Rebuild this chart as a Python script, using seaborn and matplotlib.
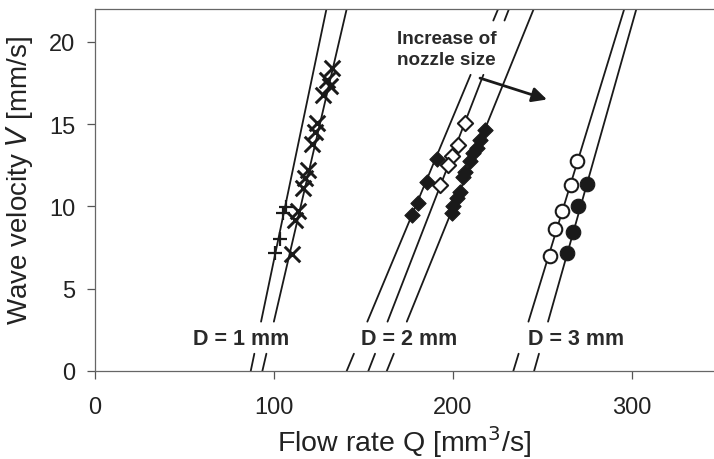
import matplotlib
matplotlib.use("Agg")
import matplotlib.pyplot as plt
import seaborn as sns

sns.set_theme(style="ticks")
plt.rcParams['font.family'] = ['Liberation Sans', 'DejaVu Sans']

# Measured wave velocity V [mm/s] against flow rate Q [mm^3/s]
d1_plus_q = [106.5, 105.2, 103.4, 100.6]
d1_plus_v = [9.95, 9.6, 8.0, 7.15]
d1_cross_q = [132.2, 129.4, 131.3, 127.5, 123.8, 122.9, 121.0, 119.2, 117.3, 116.4, 113.6, 111.7, 109.9]
d1_cross_v = [18.4, 17.7, 17.3, 16.8, 15.1, 14.5, 13.8, 12.2, 11.7, 11.1, 9.7, 9.2, 7.1]

d2_left_q = [190.8, 185.3, 180.6, 176.9]
d2_left_v = [12.9, 11.5, 10.2, 9.5]
d2_open_q = [206.7, 203.0, 199.3, 197.4, 192.7]
d2_open_v = [15.07, 13.76, 13.05, 12.5, 11.3]
d2_right_q = [217.9, 215.0, 213.2, 211.3, 209.5, 206.7, 205.8, 203.9, 202.0, 200.2, 199.3]
d2_right_v = [14.67, 14.06, 13.56, 13.25, 12.75, 12.1, 11.8, 10.9, 10.5, 10.0, 9.6]

d3_open_q = [269.5, 266.0, 261.0, 257.0, 254.4]
d3_open_v = [12.75, 11.3, 9.75, 8.6, 7.0]
d3_fill_q = [274.8, 270.0, 267.2, 263.7]
d3_fill_v = [11.35, 10.0, 8.45, 7.2]

# Linear fits V = slope * (Q - q0)
fit_q0 = [87.0, 93.5, 140.6, 152.7, 163.0, 233.7, 245.3]
fit_slope = [0.52, 0.467, 0.26, 0.28, 0.268, 0.355, 0.385]
# velocity ranges drawn for each fit line (gaps around the labels)
fit_ranges = [
    [(0, 1.05), (3.0, 22)],
    [(0, 1.05), (3.0, 22)],
    [(0, 1.05), (3.0, 18.0), (21.3, 22)],
    [(0, 1.05), (3.0, 18.0), (21.3, 22)],
    [(0, 1.05), (3.0, 22)],
    [(0, 1.05), (3.0, 22)],
    [(0, 1.05), (3.0, 22)],
]

size_labels = ["D = 1 mm", "D = 2 mm", "D = 3 mm"]
size_label_q = [81.6, 175.4, 268.7]
size_label_v = 2.0

x_ticks = [0, 100, 200, 300]
y_ticks = [0, 5, 10, 15, 20]

W, H = 714, 460
fig = plt.figure(figsize=(W / 100, H / 100), dpi=100)
ax = fig.add_axes([95 / W, 88 / H, 619 / W, 362 / H])

ink = "#1a1a1a"

for q0, k, ranges in zip(fit_q0, fit_slope, fit_ranges):
    for v_lo, v_hi in ranges:
        vs = [v_lo, v_hi]
        qs = [q0 + v / k for v in vs]
        sns.lineplot(x=qs, y=vs, color=ink, linewidth=1.3, sort=False,
                     estimator=None, ax=ax, zorder=2)

sns.scatterplot(x=d1_plus_q, y=d1_plus_v, marker="+", s=100, color=ink,
                linewidth=1.6, ax=ax, zorder=3)
sns.scatterplot(x=d1_cross_q, y=d1_cross_v, marker="x", s=125, color=ink,
                linewidth=2.1, ax=ax, zorder=3)
sns.scatterplot(x=d2_left_q, y=d2_left_v, marker="D", s=60, color=ink,
                edgecolor=ink, linewidth=0.8, ax=ax, zorder=3)
sns.scatterplot(x=d2_open_q, y=d2_open_v, marker="D", s=60, color="white",
                edgecolor=ink, linewidth=1.5, ax=ax, zorder=3)
sns.scatterplot(x=d2_right_q, y=d2_right_v, marker="D", s=60, color=ink,
                edgecolor=ink, linewidth=0.8, ax=ax, zorder=3)
sns.scatterplot(x=d3_open_q, y=d3_open_v, marker="o", s=95, color="white",
                edgecolor=ink, linewidth=1.5, ax=ax, zorder=3)
sns.scatterplot(x=d3_fill_q, y=d3_fill_v, marker="o", s=110, color=ink,
                edgecolor=ink, linewidth=0.8, ax=ax, zorder=3)

for lab, q in zip(size_labels, size_label_q):
    ax.text(q, size_label_v, lab, ha="center", va="center", fontsize=15.5,
            fontweight="bold", color="#2a2a2a")

ax.text(168.7, 19.55, "Increase of\nnozzle size", ha="left", va="center",
        fontsize=13.6, fontweight="bold", color="#2a2a2a", linespacing=1.3)
ax.annotate("", xy=(252.5, 16.5), xytext=(215.1, 17.8),
            arrowprops=dict(arrowstyle="-|>", lw=2.0, color=ink,
                            mutation_scale=22, shrinkA=0, shrinkB=0))

ax.set_xlim(0, 619 / 1.79)
ax.set_ylim(0, 22)
ax.set_xticks(x_ticks)
ax.set_yticks(y_ticks)
ax.set_xlabel("Flow rate Q [mm$^3$/s]", fontsize=20.5, color="#222222",
              labelpad=4)
ax.set_ylabel("Wave velocity $\\mathit{V}$ [mm/s]", fontsize=20, color="#222222")
ax.yaxis.set_label_coords(-0.097, 0.53)

for side in ["left", "bottom", "top"]:
    ax.spines[side].set_color("#666666")
    ax.spines[side].set_linewidth(0.9)
ax.spines["right"].set_visible(False)
ax.tick_params(axis="both", direction="out", length=6, width=0.9,
               colors="#555555", labelcolor="#222222", labelsize=17)
ax.tick_params(axis="y", pad=8)
ax.tick_params(axis="x", pad=12)
ax.set_facecolor("white")

fig.savefig("out.png", dpi=100, facecolor="white")
